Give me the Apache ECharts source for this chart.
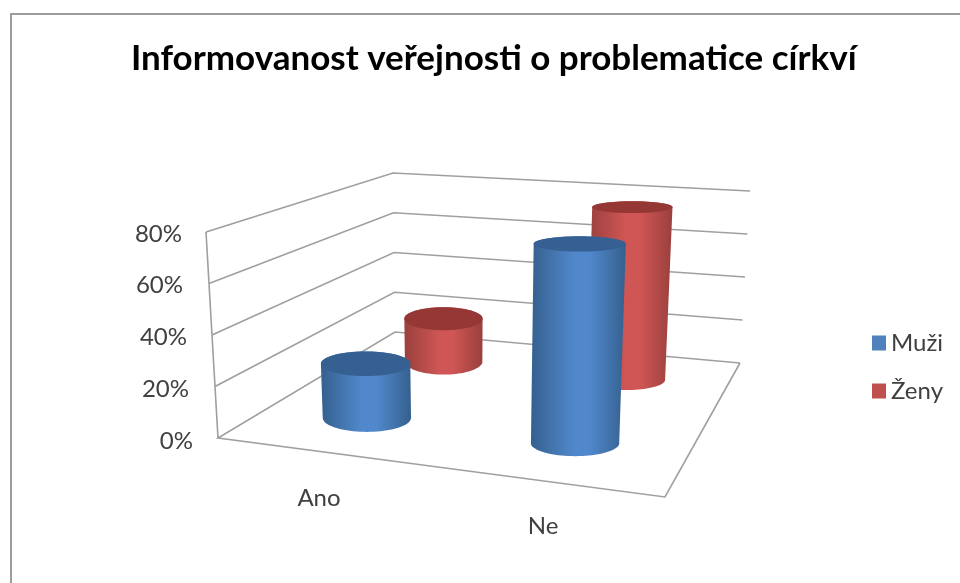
<!DOCTYPE html>
<html><head><meta charset="utf-8">
<style>html,body{margin:0;padding:0;background:#fff}#c{width:960px;height:583px}#c canvas{filter:blur(.5px)}</style>
<script src="https://cdn.jsdelivr.net/npm/echarts@6/dist/echarts.min.js"></script>
</head><body><div id="c"></div>
<script>
const titleText = 'Informovanost veřejnosti o problematice církví';
const categories = ['Ano', 'Ne'];
const muzi = [22, 77];
const zeny = [20, 77];
const ticks = [0, 20, 40, 60, 80];

// Box corners of the 3D chart on screen: [front-left, front-right, back-right, back-left]
const floorC = [[218,438],[665,497],[740,363],[395,332]];
const topC   = [[206,232],[675,267],[750,191],[393,173]];
const lerp = (a,b,t)=>a+(b-a)*t;
function project(u,v,h){
  const f=i=>lerp(lerp(lerp(floorC[0][i],floorC[1][i],u),lerp(floorC[3][i],floorC[2][i],u),v),
                  lerp(lerp(topC[0][i],topC[1][i],u),lerp(topC[3][i],topC[2][i],u),v),h);
  return [f(0),f(1)];
}
function heightOf(api,val){
  const y0=api.coord([0,0])[1], yM=api.coord([0,ticks[ticks.length-1]])[1];
  return (y0-api.coord([0,val])[1])/(y0-yM);
}
const catU=[0.23,0.73];
const RU=0.106;
function cylinder(v,rvs,edge,mid,topCol){
  return function(params,api){
    const cat=api.value(0), u=catU[cat], rv=rvs[cat], h=heightOf(api,api.value(1));
    const mk=hh=>{
      const c=project(u,v,hh);
      const rx=RU*(project(1,v,hh)[0]-project(0,v,hh)[0]);
      const ry=rv*Math.abs(project(u,v+.5,hh)[1]-project(u,v-.5,hh)[1]);
      return {c,rx,ry};
    };
    const b=mk(0), t=mk(h), pts=[];
    for(let i=0;i<=40;i++){const a=Math.PI*i/40;pts.push([b.c[0]-b.rx*Math.cos(a),b.c[1]+b.ry*Math.sin(a)]);}
    for(let i=0;i<=40;i++){const a=Math.PI*i/40;pts.push([t.c[0]+t.rx*Math.cos(a),t.c[1]-t.ry*Math.sin(a)]);}
    return {type:'group',children:[
      {type:'polygon',shape:{points:pts},style:{fill:{type:'linear',x:0,y:0,x2:1,y2:0,colorStops:[
        {offset:0,color:edge},{offset:.45,color:mid},{offset:.62,color:mid},{offset:1,color:edge}]}}},
      {type:'ellipse',shape:{cx:t.c[0],cy:t.c[1],rx:t.rx,ry:t.ry},style:{fill:topCol}}
    ]};
  };
}
function frame(params,api){
  const h=heightOf(api,api.value(0)), kids=[];
  const st={stroke:'#9f9f9f',lineWidth:1.6,fill:null};
  const pts=h===0?[project(1,1,0),project(1,0,0),project(0,0,0),project(0,1,0),project(1,1,0)]
                 :[project(0,0,h),project(0,1,h),project(1,1,h)];
  kids.push({type:'polyline',shape:{points:pts},style:st});
  if(h===0)kids.push({type:'polyline',shape:{points:[project(0,0,0),project(0,0,1)]},style:st});
  return {type:'group',children:kids};
}
const labelPad={0:0,20:4,40:6,60:10,80:11};
const yRich={};ticks.forEach(t=>{yRich['t'+t]={fontFamily:'Lato',fontSize:24,color:'#404040',padding:[0,labelPad[t],0,0]};});
const chart=echarts.init(document.getElementById('c'),null,{renderer:'canvas'});
chart.setOption({
  animation:false,backgroundColor:'#fff',
  title:{text:titleText,left:126,top:36,textStyle:{fontFamily:'Lato',fontWeight:'bold',fontSize:35,color:'#000'}},
  graphic:[{type:'rect',shape:{x:11,y:14,width:980,height:600},style:{fill:null,stroke:'#9c9c9c',lineWidth:2},silent:true,z:-1}],
  legend:{data:['Muži','Ženy'],orient:'vertical',left:867,top:326,itemWidth:14,itemHeight:15,itemGap:24,icon:'rect',
    textStyle:{fontFamily:'Lato',fontSize:24,color:'#404040'},selectedMode:false},
  grid:{left:207,width:448,top:234,height:207},
  xAxis:{type:'category',data:categories,axisLine:{show:false},axisTick:{show:false},splitLine:{show:false},
    axisLabel:{margin:45,interval:0,formatter:(v)=>'{'+v+'|'+v+'}',rich:{
      Ano:{fontFamily:'Lato',fontSize:24,color:'#404040'},
      Ne:{fontFamily:'Lato',fontSize:24,color:'#404040',padding:[28,0,0,0]}}}},
  yAxis:{type:'value',min:0,max:80,interval:20,axisLine:{show:false},axisTick:{show:false},splitLine:{show:false},
    axisLabel:{margin:14,formatter:(v)=>'{t'+v+'|'+v+'%}',rich:yRich}},
  series:[
    {name:'Mřížka',type:'custom',z:1,silent:true,renderItem:frame,encode:{y:0},data:ticks.map(t=>[t]),coordinateSystem:'cartesian2d'},
    {name:'Ženy',type:'custom',z:2,itemStyle:{color:'#c0504d'},encode:{x:0,y:1},
      renderItem:cylinder(.8,[.115,.08],'#99403d','#cf5654','#953735'),data:categories.map((c,i)=>[c,zeny[i]])},
    {name:'Muži',type:'custom',z:3,itemStyle:{color:'#4f81bd'},encode:{x:0,y:1},
      renderItem:cylinder(.3,[.125,.103],'#35608f','#5088cb','#376092'),data:categories.map((c,i)=>[c,muzi[i]])}
  ]
});
</script></body></html>
